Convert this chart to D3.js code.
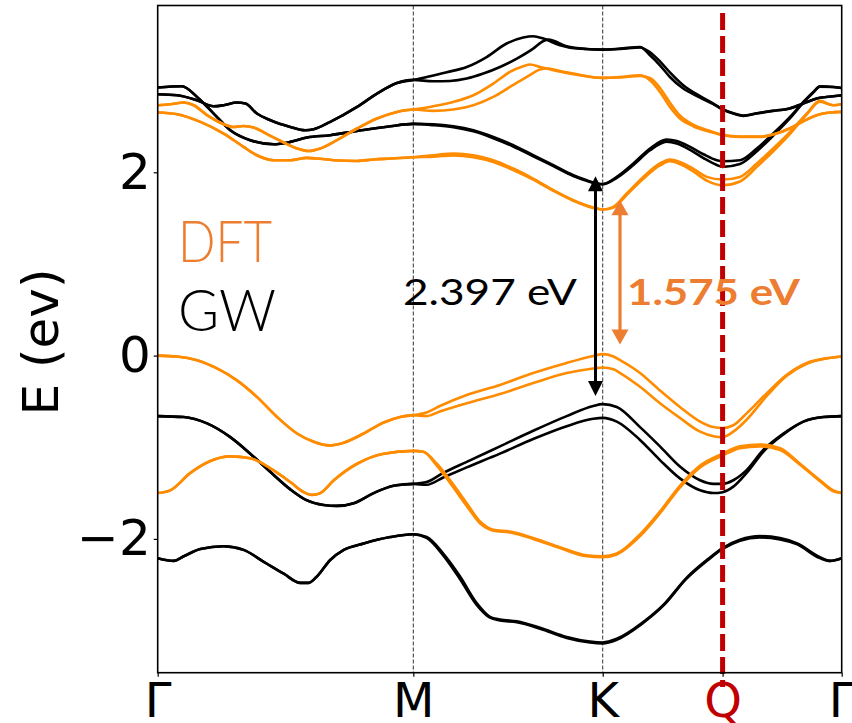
<!DOCTYPE html>
<html><head><meta charset="utf-8">
<script src="https://cdn.jsdelivr.net/npm/d3@7"></script>
<style>html,body{margin:0;padding:0;background:#fff;} svg{display:block;}</style>
</head><body>
<svg id="chart" width="852" height="723"></svg>
<script>
// High-symmetry path and axis ticks
const kPoints = [0, 1, 1.741, 2.210, 2.676];
const kLabels = ["Γ", "M", "K", "Q", "Γ"];
const eTicks = [-2, 0, 2];

// Band gaps at K (eV)
const gapGW = 2.397;
const gapDFT = 1.575;

// ---- GW (black) conduction bands ----
const gwCondLowGM = [[0,2.925],[0.095,2.939],[0.154,2.822],[0.219,2.641],[0.284,2.459],[0.362,2.350],[0.454,2.306],[0.519,2.332],[0.584,2.380],[0.675,2.405],[0.780,2.451],[0.910,2.503],[1.000,2.528]];
const gwC1 = gwCondLowGM.concat([[1.078,2.524],[1.157,2.503],[1.235,2.459],[1.313,2.386],[1.391,2.296],[1.469,2.187],[1.548,2.077],[1.626,1.968],[1.678,1.914],[1.718,1.878],[1.741,1.870],[1.796,1.950],[1.861,2.096],[1.926,2.260],[1.991,2.358],[2.031,2.342],[2.083,2.277],[2.135,2.197],[2.187,2.132],[2.210,2.121],[2.278,2.132],[2.344,2.260],[2.408,2.423],[2.474,2.604],[2.526,2.768],[2.565,2.877],[2.591,2.939],[2.643,2.931],[2.676,2.920]]);
const gwC2 = gwCondLowGM.concat([[1.078,2.515],[1.157,2.492],[1.235,2.447],[1.313,2.372],[1.391,2.282],[1.469,2.175],[1.548,2.067],[1.626,1.960],[1.678,1.908],[1.718,1.874],[1.741,1.870],[1.796,1.940],[1.861,2.080],[1.926,2.240],[1.991,2.335],[2.031,2.315],[2.083,2.245],[2.135,2.155],[2.187,2.080],[2.210,2.059],[2.278,2.090],[2.344,2.230],[2.408,2.400],[2.474,2.590],[2.526,2.760],[2.565,2.870],[2.591,2.935],[2.643,2.931],[2.676,2.920]]);
const gwCondHighGM = [[0,2.852],[0.076,2.841],[0.154,2.786],[0.219,2.721],[0.258,2.732],[0.310,2.761],[0.343,2.750],[0.388,2.641],[0.441,2.568],[0.519,2.495],[0.577,2.459],[0.610,2.470],[0.675,2.550],[0.780,2.713],[0.858,2.859],[0.936,2.975],[1.000,3.008]];
const gwC3 = gwCondHighGM.concat([[1.078,2.993],[1.144,2.997],[1.209,3.023],[1.274,3.077],[1.339,3.149],[1.405,3.241],[1.469,3.350],[1.509,3.433],[1.528,3.448],[1.600,3.375],[1.678,3.346],[1.741,3.339],[1.809,3.345],[1.887,3.362],[1.926,3.310],[1.965,3.210],[2.004,3.090],[2.056,2.950],[2.122,2.830],[2.174,2.750],[2.210,2.690],[2.252,2.645],[2.291,2.620],[2.344,2.645],[2.408,2.672],[2.474,2.700],[2.526,2.752],[2.578,2.805],[2.643,2.830],[2.676,2.841]]);
const gwC4 = gwCondHighGM.concat([[1.052,3.040],[1.131,3.092],[1.209,3.149],[1.287,3.258],[1.365,3.405],[1.430,3.470],[1.469,3.484],[1.509,3.459],[1.574,3.386],[1.639,3.350],[1.741,3.339],[1.809,3.350],[1.887,3.367],[1.926,3.277],[1.965,3.168],[2.004,3.040],[2.056,2.914],[2.122,2.816],[2.174,2.743],[2.210,2.685],[2.252,2.641],[2.291,2.615],[2.344,2.641],[2.408,2.670],[2.474,2.696],[2.526,2.750],[2.578,2.805],[2.643,2.830],[2.676,2.841]]);

// ---- GW (black) valence bands ----
const gwValTopGM = [[0,-0.66],[0.102,-0.67],[0.193,-0.74],[0.284,-0.89],[0.362,-1.07],[0.441,-1.27],[0.519,-1.46],[0.584,-1.58],[0.649,-1.63],[0.701,-1.64],[0.767,-1.61],[0.845,-1.50],[0.923,-1.42],[1.000,-1.40]];
const gwV1 = gwValTopGM.concat([[1.052,-1.38],[1.117,-1.28],[1.209,-1.16],[1.339,-0.99],[1.469,-0.82],[1.600,-0.66],[1.704,-0.55],[1.741,-0.53],[1.796,-0.56],[1.887,-0.78],[1.965,-0.99],[2.043,-1.21],[2.122,-1.36],[2.174,-1.40],[2.210,-1.40],[2.252,-1.36],[2.304,-1.25],[2.369,-1.03],[2.448,-0.85],[2.526,-0.72],[2.604,-0.67],[2.676,-0.66]]);
const gwV2 = gwValTopGM.concat([[1.052,-1.41],[1.117,-1.33],[1.209,-1.22],[1.339,-1.07],[1.469,-0.91],[1.600,-0.77],[1.704,-0.69],[1.741,-0.68],[1.796,-0.72],[1.887,-0.92],[1.965,-1.14],[2.043,-1.34],[2.122,-1.47],[2.174,-1.50],[2.210,-1.49],[2.252,-1.43],[2.304,-1.28],[2.369,-1.05],[2.448,-0.86],[2.526,-0.72],[2.604,-0.67],[2.676,-0.66]]);
const gwValDeepGM = [[0,-2.21],[0.063,-2.24],[0.102,-2.19],[0.167,-2.11],[0.258,-2.08],[0.336,-2.12],[0.415,-2.25],[0.493,-2.38],[0.558,-2.48],[0.591,-2.48],[0.623,-2.41],[0.675,-2.23],[0.728,-2.12],[0.806,-2.05],[0.910,-1.98],[1.000,-1.95]];
const gwV3 = gwValDeepGM.concat([[1.052,-1.98],[1.117,-2.16],[1.183,-2.41],[1.248,-2.70],[1.300,-2.85],[1.339,-2.88],[1.405,-2.90],[1.496,-2.97],[1.600,-3.07],[1.691,-3.12],[1.741,-3.13],[1.796,-3.09],[1.893,-2.92],[1.985,-2.70],[2.067,-2.43],[2.153,-2.22],[2.210,-2.10],[2.278,-2.01],[2.356,-1.97],[2.435,-1.99],[2.502,-2.05],[2.591,-2.20],[2.630,-2.24],[2.676,-2.21]]);
const gwV4 = gwValDeepGM.concat([[1.052,-1.99],[1.117,-2.18],[1.183,-2.44],[1.248,-2.72],[1.300,-2.86],[1.339,-2.89],[1.405,-2.91],[1.496,-2.98],[1.600,-3.08],[1.691,-3.13],[1.741,-3.14],[1.796,-3.10],[1.893,-2.93],[1.985,-2.71],[2.067,-2.44],[2.153,-2.23],[2.210,-2.11],[2.278,-2.02],[2.356,-1.985],[2.435,-2.005],[2.502,-2.06],[2.591,-2.21],[2.630,-2.24],[2.676,-2.21]]);

// ---- DFT (orange) conduction bands ----
const dftCondLowGM = [[0,2.652],[0.076,2.634],[0.167,2.550],[0.258,2.423],[0.336,2.277],[0.388,2.186],[0.454,2.132],[0.519,2.132],[0.584,2.157],[0.623,2.150],[0.689,2.132],[0.780,2.124],[0.845,2.140],[0.910,2.150],[1.000,2.165]];
const dftC1 = dftCondLowGM.concat([[1.078,2.170],[1.157,2.185],[1.235,2.165],[1.313,2.112],[1.391,2.025],[1.469,1.920],[1.548,1.797],[1.626,1.690],[1.704,1.612],[1.741,1.594],[1.783,1.615],[1.835,1.755],[1.900,1.930],[1.965,2.075],[2.004,2.120],[2.043,2.090],[2.095,2.010],[2.148,1.910],[2.210,1.859],[2.278,1.900],[2.344,2.060],[2.408,2.230],[2.474,2.420],[2.539,2.630],[2.591,2.770],[2.643,2.732],[2.676,2.743]]);
const dftC2 = dftCondLowGM.concat([[1.078,2.186],[1.157,2.205],[1.235,2.186],[1.313,2.132],[1.391,2.041],[1.469,1.932],[1.548,1.805],[1.626,1.696],[1.704,1.616],[1.741,1.594],[1.783,1.623],[1.835,1.769],[1.900,1.950],[1.965,2.096],[2.004,2.140],[2.043,2.113],[2.095,2.041],[2.148,1.950],[2.210,1.921],[2.278,1.950],[2.344,2.096],[2.408,2.260],[2.474,2.441],[2.539,2.641],[2.591,2.779],[2.643,2.732],[2.676,2.743]]);
const dftCondHighGM = [[0,2.732],[0.049,2.743],[0.102,2.761],[0.141,2.732],[0.193,2.623],[0.258,2.525],[0.297,2.495],[0.336,2.506],[0.376,2.489],[0.428,2.416],[0.493,2.325],[0.545,2.260],[0.591,2.233],[0.636,2.260],[0.701,2.350],[0.780,2.478],[0.858,2.587],[0.936,2.659],[1.000,2.685]];
const dftC3 = dftCondHighGM.concat([[1.078,2.670],[1.157,2.685],[1.235,2.732],[1.313,2.822],[1.378,2.931],[1.444,3.040],[1.496,3.121],[1.522,3.132],[1.574,3.106],[1.650,3.065],[1.741,3.030],[1.809,3.035],[1.887,3.050],[1.926,3.030],[1.965,2.920],[2.004,2.760],[2.043,2.620],[2.095,2.520],[2.161,2.450],[2.210,2.410],[2.278,2.390],[2.356,2.390],[2.422,2.425],[2.474,2.481],[2.526,2.557],[2.578,2.623],[2.630,2.652],[2.676,2.659]]);
const dftC4 = dftCondHighGM.concat([[1.078,2.721],[1.157,2.768],[1.235,2.841],[1.313,2.968],[1.378,3.095],[1.430,3.157],[1.457,3.176],[1.496,3.149],[1.548,3.113],[1.626,3.070],[1.741,3.030],[1.809,3.040],[1.887,3.059],[1.926,3.004],[1.965,2.877],[2.004,2.713],[2.043,2.587],[2.095,2.503],[2.161,2.441],[2.210,2.405],[2.278,2.386],[2.356,2.386],[2.422,2.423],[2.474,2.481],[2.526,2.557],[2.578,2.623],[2.630,2.652],[2.676,2.659]]);

// ---- DFT (orange) valence bands ----
const dftValTopGM = [[0,0.00],[0.076,-0.01],[0.154,-0.05],[0.232,-0.14],[0.310,-0.27],[0.388,-0.45],[0.467,-0.67],[0.545,-0.85],[0.610,-0.94],[0.669,-0.98],[0.728,-0.95],[0.806,-0.85],[0.884,-0.73],[0.949,-0.67],[1.000,-0.65]];
const dftV1 = dftValTopGM.concat([[1.052,-0.62],[1.104,-0.55],[1.209,-0.43],[1.339,-0.32],[1.469,-0.19],[1.600,-0.08],[1.704,-0.005],[1.741,0.016],[1.783,-0.01],[1.809,-0.05],[1.887,-0.19],[1.965,-0.38],[2.043,-0.56],[2.122,-0.72],[2.174,-0.78],[2.210,-0.79],[2.252,-0.76],[2.304,-0.63],[2.383,-0.41],[2.461,-0.21],[2.539,-0.08],[2.617,-0.03],[2.676,-0.01]]);
const dftV2 = dftValTopGM.concat([[1.052,-0.66],[1.104,-0.61],[1.209,-0.52],[1.339,-0.42],[1.469,-0.30],[1.600,-0.19],[1.704,-0.14],[1.741,-0.13],[1.783,-0.15],[1.809,-0.19],[1.887,-0.34],[1.965,-0.52],[2.043,-0.68],[2.122,-0.83],[2.174,-0.88],[2.210,-0.89],[2.252,-0.83],[2.304,-0.70],[2.383,-0.44],[2.461,-0.22],[2.539,-0.09],[2.617,-0.03],[2.676,-0.01]]);
const dftValLowGM = [[0,-1.50],[0.049,-1.47],[0.128,-1.28],[0.206,-1.15],[0.284,-1.10],[0.362,-1.12],[0.441,-1.23],[0.519,-1.38],[0.571,-1.49],[0.604,-1.52],[0.636,-1.50],[0.689,-1.36],[0.780,-1.18],[0.884,-1.07],[1.000,-1.04]];
const dftV3 = dftValLowGM.concat([[1.039,-1.05],[1.092,-1.18],[1.144,-1.36],[1.209,-1.61],[1.261,-1.81],[1.313,-1.90],[1.378,-1.92],[1.469,-1.99],[1.574,-2.09],[1.678,-2.18],[1.741,-2.19],[1.796,-2.16],[1.887,-1.95],[1.965,-1.70],[2.043,-1.42],[2.122,-1.20],[2.210,-1.07],[2.278,-0.99],[2.356,-0.97],[2.435,-1.01],[2.513,-1.18],[2.591,-1.36],[2.643,-1.47],[2.676,-1.50]]);
const dftV4 = dftValLowGM.concat([[1.039,-1.05],[1.092,-1.20],[1.144,-1.39],[1.209,-1.64],[1.261,-1.83],[1.313,-1.91],[1.378,-1.93],[1.469,-2.00],[1.574,-2.10],[1.678,-2.19],[1.741,-2.20],[1.796,-2.17],[1.887,-1.97],[1.965,-1.72],[2.043,-1.44],[2.122,-1.22],[2.210,-1.09],[2.278,-1.01],[2.356,-0.99],[2.435,-1.03],[2.513,-1.19],[2.591,-1.37],[2.643,-1.48],[2.676,-1.50]]);

const gwBands = [gwC1, gwC2, gwC3, gwC4, gwV1, gwV2, gwV3, gwV4];
const dftBands = [dftC1, dftC2, dftC3, dftC4, dftV1, dftV2, dftV3, dftV4];

// Lower ends of the gap arrows at K (eV); each arrow spans its gap
const gwArrowLow = -0.44;
const dftArrowLow = 0.12;

// ---------------- drawing ----------------
const svg = d3.select("#chart");
const plotL = 157.7, plotR = 841.7, plotT = 5.5, plotB = 672.7;
const x = d3.scaleLinear().domain([0, 2.676]).range([plotL, plotR]);
const y = d3.scaleLinear().domain([-3.46, 3.82]).range([plotB, plotT]);

const ORANGE = "#ff8c00";
const TEXT_ORANGE = "#ed7d31";
const RED = "#c00000";

svg.append("defs").append("clipPath").attr("id", "plot-clip")
  .append("rect").attr("x", plotL).attr("y", plotT).attr("width", plotR - plotL).attr("height", plotB - plotT);

// vertical dashed separators at M and K
svg.append("g").selectAll("line").data([kPoints[1], kPoints[2]]).join("line")
  .attr("x1", d => x(d)).attr("x2", d => x(d))
  .attr("y1", plotT).attr("y2", plotB)
  .attr("stroke", "#333").attr("stroke-width", 1).attr("stroke-dasharray", "4,2");

const line = d3.line().x(d => x(d[0])).y(d => y(d[1])).curve(d3.curveMonotoneX);
const bandsG = svg.append("g").attr("clip-path", "url(#plot-clip)").attr("fill", "none")
  .attr("stroke-linejoin", "round").attr("stroke-linecap", "round");
bandsG.selectAll("path.gw").data(gwBands).join("path").attr("class", "gw")
  .attr("d", line).attr("stroke", "#000").attr("stroke-width", 2.6);
bandsG.selectAll("path.dft").data(dftBands).join("path").attr("class", "dft")
  .attr("d", line).attr("stroke", ORANGE).attr("stroke-width", 2.6);

// red dashed marker at Q
svg.append("line").attr("x1", x(kPoints[3])).attr("x2", x(kPoints[3]))
  .attr("y1", 13).attr("y2", 687)
  .attr("stroke", RED).attr("stroke-width", 5).attr("stroke-dasharray", "17,6");

// frame
svg.append("rect").attr("x", plotL).attr("y", plotT).attr("width", plotR - plotL).attr("height", plotB - plotT)
  .attr("fill", "none").attr("stroke", "#000").attr("stroke-width", 1.6);

// axes
const fmt = d => (d < 0 ? "\u2212" : "") + Math.abs(d);
const yAxis = svg.append("g").attr("transform", `translate(${plotL},0)`)
  .call(d3.axisLeft(y).tickValues(eTicks).tickFormat(fmt).tickSize(4).tickPadding(3));
yAxis.select(".domain").remove();
yAxis.selectAll("text").attr("font-family", "DejaVu Sans").attr("font-size", 50).attr("fill", "#000");
yAxis.selectAll("line").attr("stroke", "#000").attr("stroke-width", 1.2);

const xAxis = svg.append("g").attr("transform", `translate(0,${plotB})`)
  .call(d3.axisBottom(x).tickValues(kPoints).tickFormat((d, i) => kLabels[i]).tickSize(4).tickPadding(6));
xAxis.select(".domain").remove();
xAxis.selectAll("text").attr("font-family", "DejaVu Sans").attr("font-size", 48)
  .attr("fill", (d, i) => kLabels[i] === "Q" ? RED : "#000");
xAxis.selectAll("line").attr("stroke", "#000").attr("stroke-width", 1.2);

svg.append("text").attr("transform", "translate(58,342) rotate(-90)")
  .attr("text-anchor", "middle").attr("font-family", "DejaVu Sans").attr("font-size", 50)
  .text("E (ev)");

// gap arrows
function gapArrow(px, e0, gap, color, width, head) {
  const g = svg.append("g");
  const y0 = y(e0), y1 = y(e0 + gap);
  g.append("line").attr("x1", px).attr("x2", px).attr("y1", y0 - head.len + 1).attr("y2", y1 + head.len - 1)
    .attr("stroke", color).attr("stroke-width", width);
  g.append("path").attr("fill", color)
    .attr("d", `M${px},${y1}L${px - head.w / 2},${y1 + head.len}L${px + head.w / 2},${y1 + head.len}Z`);
  g.append("path").attr("fill", color)
    .attr("d", `M${px},${y0}L${px - head.w / 2},${y0 - head.len}L${px + head.w / 2},${y0 - head.len}Z`);
}
gapArrow(595.5, gwArrowLow, gapGW, "#000", 3, {w: 15, len: 15});
gapArrow(620, dftArrowLow, gapDFT, TEXT_ORANGE, 3.2, {w: 17, len: 15});

// labels
svg.append("text").attr("x", 403).attr("y", 305).attr("font-family", "Lato, DejaVu Sans").attr("font-size", 37)
  .attr("textLength", 174).attr("lengthAdjust", "spacingAndGlyphs").attr("fill", "#000")
  .text(gapGW.toFixed(3) + " eV");
svg.append("text").attr("x", 627).attr("y", 305).attr("font-family", "Lato, DejaVu Sans").attr("font-size", 37)
  .attr("font-weight", "bold").attr("textLength", 173).attr("lengthAdjust", "spacingAndGlyphs").attr("fill", TEXT_ORANGE)
  .text(gapDFT.toFixed(3) + " eV");

svg.append("text").attr("x", 178).attr("y", 262).attr("font-family", "Lato, DejaVu Sans").attr("font-weight", 300)
  .attr("font-size", 57).attr("textLength", 94).attr("lengthAdjust", "spacingAndGlyphs").attr("fill", TEXT_ORANGE)
  .text("DFT");
svg.append("text").attr("x", 178).attr("y", 331).attr("font-family", "Lato, DejaVu Sans").attr("font-weight", 300)
  .attr("font-size", 57).attr("textLength", 98).attr("lengthAdjust", "spacingAndGlyphs").attr("fill", "#000")
  .text("GW");
</script>
</body></html>
